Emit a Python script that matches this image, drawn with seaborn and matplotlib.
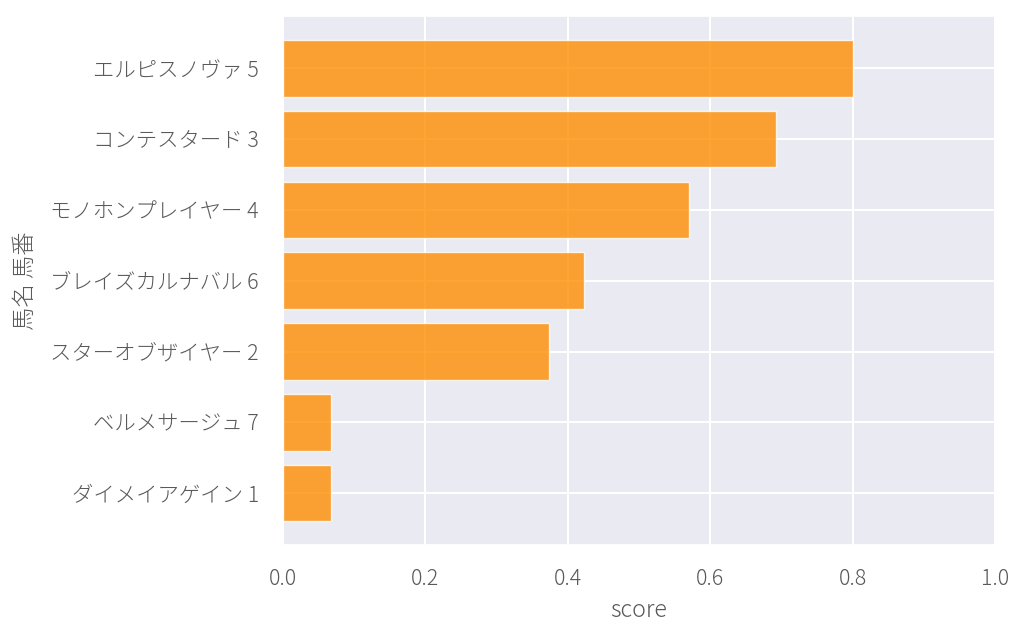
import pandas as pd
import matplotlib.pyplot as plt
import seaborn as sns

# データ
horses = ['エルピスノヴァ 5', 'コンテスタード 3', 'モノホンプレイヤー 4', 'ブレイズカルナバル 6',
          'スターオブザイヤー 2', 'ベルメサージュ 7', 'ダイメイアゲイン 1']
scores = [0.800, 0.692, 0.570, 0.423, 0.374, 0.068, 0.068]

df = pd.DataFrame({'馬名 馬番': horses, 'score': scores})

sns.set_theme(style='darkgrid', font_scale=1.4,
              rc={'grid.linewidth': 1.5,
                  'xtick.major.pad': 10, 'ytick.major.pad': 11,
                  'text.color': '.35', 'axes.labelcolor': '.35',
                  'xtick.color': '.35', 'ytick.color': '.35'})
plt.rcParams['font.family'] = ['Noto Sans CJK JP', 'DejaVu Sans']
plt.rcParams['font.weight'] = 'light'

fig, ax = plt.subplots(figsize=(10.24, 6.38), dpi=100)
fig.subplots_adjust(left=0.276, right=0.972, top=0.975, bottom=0.145)

sns.barplot(x='score', y='馬名 馬番', data=df, orient='h', color='darkorange',
            alpha=0.8, width=0.8, edgecolor='white', linewidth=1, saturation=1, ax=ax)

ax.set_xlim(0, 1.0)
ax.set_ylim(6.74, -0.74)
ax.grid(True, axis='both')
ax.set_axisbelow(True)
ax.set_xlabel('score', fontweight='light', labelpad=6)
ax.set_ylabel('馬名 馬番', fontweight='light', labelpad=9)

fig.savefig('out.png', dpi=100)
